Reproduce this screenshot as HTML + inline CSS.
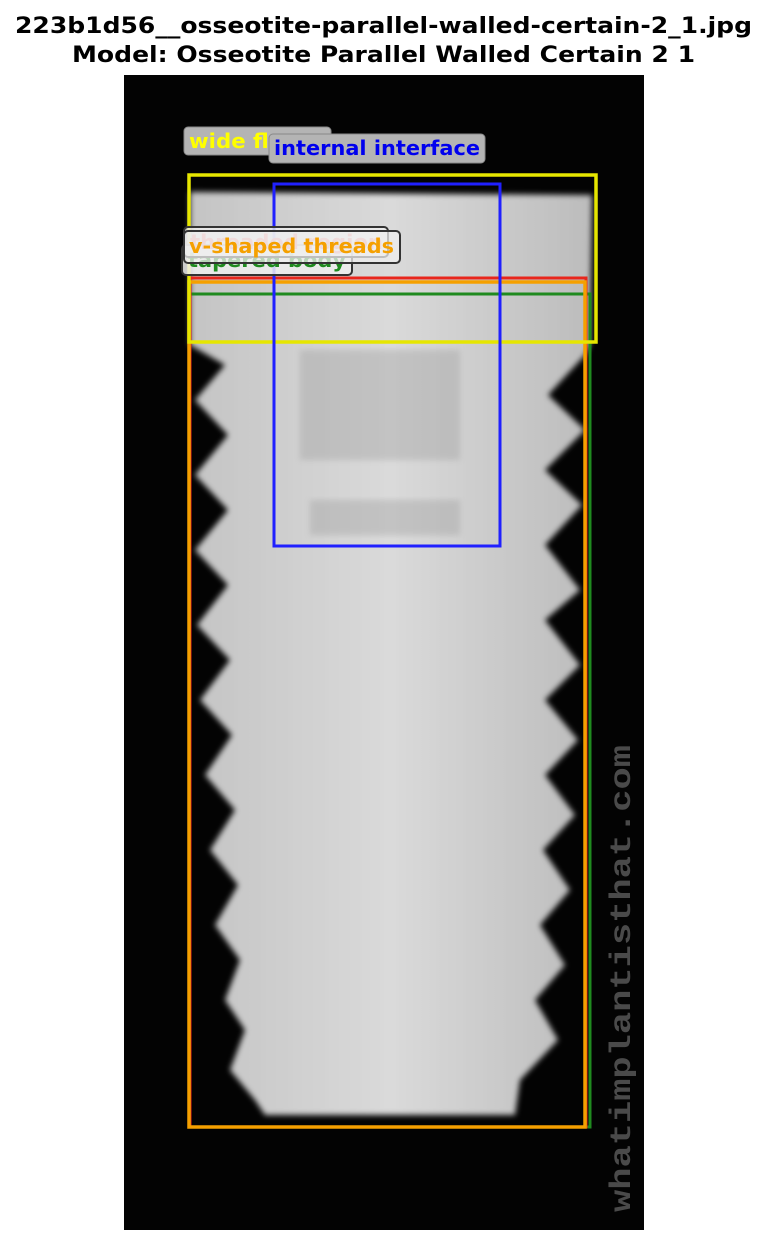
<!DOCTYPE html>
<html><head><meta charset="utf-8"><style>
body{margin:0;background:#fff;width:767px;height:1245px;overflow:hidden;font-family:"DejaVu Sans","Liberation Sans",sans-serif}
</style></head><body>
<svg width="767" height="1245" viewBox="0 0 767 1245" xmlns="http://www.w3.org/2000/svg">
<defs><filter id="bl"><feGaussianBlur stdDeviation="3"/></filter>
<linearGradient id="g" x1="0" x2="1"><stop offset="0" stop-color="#c4c4c4"/><stop offset="0.5" stop-color="#dadada"/><stop offset="1" stop-color="#bcbcbc"/></linearGradient></defs>
<text x="15" y="33" textLength="737" lengthAdjust="spacingAndGlyphs" font-size="22" font-weight="bold">223b1d56__osseotite-parallel-walled-certain-2_1.jpg</text>
<text x="72" y="62" textLength="623" lengthAdjust="spacingAndGlyphs" font-size="22" font-weight="bold">Model: Osseotite Parallel Walled Certain 2 1</text>
<rect x="124" y="75" width="520" height="1155" fill="#030303"/>
<polygon filter="url(#bl)" fill="url(#g)" points="190,192 592,195 590,345 585,355 548,395 585,430 545,470 582,505 545,545 580,590 545,620 580,665 545,700 578,740 545,775 575,815 543,850 570,890 540,925 565,965 535,1000 558,1040 520,1080 515,1115 265,1115 255,1100 230,1070 245,1030 225,1000 240,960 215,925 238,885 210,850 235,810 205,775 232,735 200,700 230,660 197,625 228,585 195,550 228,510 195,475 228,435 195,400 225,365 190,345"/>
<rect x="300" y="350" width="160" height="110" fill="#999" opacity="0.35" filter="url(#bl)"/>
<rect x="310" y="500" width="150" height="35" fill="#999" opacity="0.35" filter="url(#bl)"/>
<text transform="translate(630,1212) rotate(-90)" textLength="467" lengthAdjust="spacingAndGlyphs" font-family="Liberation Mono,monospace" font-weight="bold" font-size="30" fill="#4a4a4a">whatimplantisthat.com</text>
<g fill="none" stroke-width="3">
<rect x="190" y="294" width="400" height="833" stroke="#1f8a1f"/>
<rect x="190" y="278" width="396" height="849" stroke="#e8261c"/>
<rect x="189" y="282" width="396" height="845" stroke="#f5a000" stroke-width="3.5"/>
<rect x="189" y="175" width="407" height="167" stroke="#e6e600" stroke-width="3.5"/>
<rect x="274" y="184" width="226" height="362" stroke="#2020ff"/>
</g>
<g font-size="20" font-weight="bold">
<rect x="184" y="127" width="147" height="28" rx="4" fill="#b4b4b4" stroke="#888"/>
<text x="189" y="148" textLength="139" lengthAdjust="spacingAndGlyphs" fill="#ffff00">wide flange</text>
<rect x="269" y="134" width="216" height="29" rx="4" fill="#b4b4b4" stroke="#888"/>
<text x="274" y="155" textLength="206" lengthAdjust="spacingAndGlyphs" fill="#0000ee">internal interface</text>
<rect x="182" y="245" width="170" height="30" rx="4" fill="#eee" fill-opacity="0.85" stroke="#333" stroke-width="2"/>
<text x="188" y="267" textLength="158" lengthAdjust="spacingAndGlyphs" fill="#1f8a1f">tapered body</text>
<rect x="184" y="227" width="204" height="30" rx="4" fill="#eee" fill-opacity="0.8" stroke="#333" stroke-width="2"/>
<text x="190" y="249" textLength="193" lengthAdjust="spacingAndGlyphs" fill="#f4a0a0">threaded region</text>
<rect x="184" y="231" width="216" height="32" rx="4" fill="#eee" fill-opacity="0.75" stroke="#333" stroke-width="2"/>
<text x="189" y="253" textLength="205" lengthAdjust="spacingAndGlyphs" fill="#f5a000">v-shaped threads</text>
</g>
</svg>
</body></html>
